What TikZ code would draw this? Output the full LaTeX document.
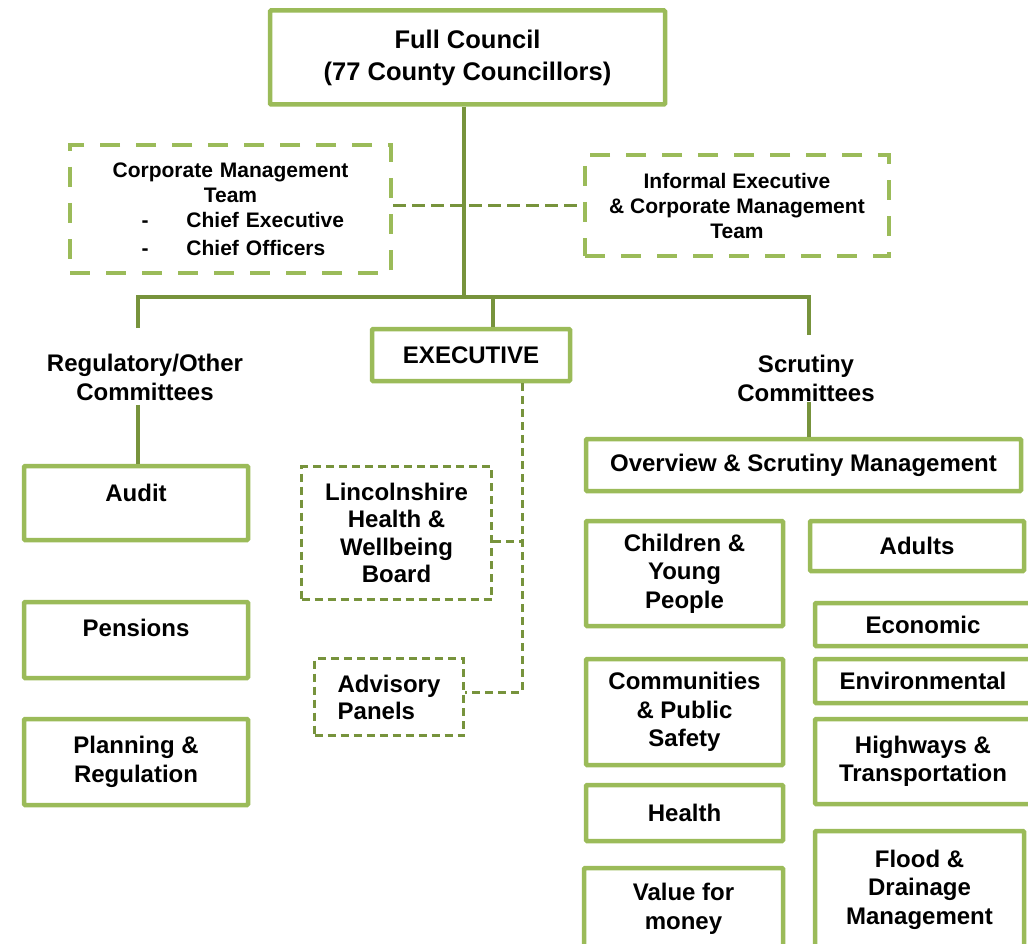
\documentclass[tikz,border=0pt]{standalone}
\usepackage{fontspec}
\setmainfont{Liberation Sans}
\usepackage{tikz}
\usepackage{xcolor}
\usetikzlibrary{calc}
\definecolor{lightolive}{HTML}{9BBB59}
\definecolor{darkolive}{HTML}{77933C}

\begin{document}
\begin{tikzpicture}[x=1pt,y=-1pt]
        \tikzstyle{every node}=[font=\bfseries\fontsize{24}{28.5}\selectfont, align=center, inner sep=0pt]
        \tikzstyle{box}=[draw=lightolive, line width=4.5pt, fill=white, rounded corners=1pt]
        \tikzstyle{dbox}=[draw=lightolive, line width=4.5pt, fill=white, dash pattern=on 20pt off 16pt]
        \tikzstyle{sbox}=[draw=darkolive, line width=3pt, fill=white, dash pattern=on 8pt off 5pt]
        \tikzstyle{link}=[draw=darkolive, line width=4.5pt]
        \tikzstyle{dlink}=[draw=darkolive, line width=3pt, dash pattern=on 8pt off 5pt]
        \tikzstyle{tlink}=[draw=darkolive, line width=3.5pt, dash pattern=on 13pt off 6pt]

        \useasboundingbox (0,0) rectangle (1028,944);
        \clip (0,0) rectangle (1028,944);

        \node[box, minimum width=395pt, minimum height=94pt, font=\bfseries\fontsize{25.5}{32}\selectfont] (1) at (467.5,57.5) {Full Council\\(77 County Councillors)};
        \node[dbox, minimum width=321pt, minimum height=128pt, font=\bfseries\fontsize{21}{25}\selectfont, text width=290pt, align=left] (2) at (230.5,209) {\makebox[290pt]{Corporate Management}\\\makebox[290pt]{Team}\\\hspace*{56pt}-\hspace*{38pt}Chief Executive\\[3pt]\hspace*{56pt}-\hspace*{38pt}Chief Officers};
        \node[dbox, minimum width=304pt, minimum height=101pt, font=\bfseries\fontsize{21}{25}\selectfont] (3) at (737,205.5) {Informal Executive\\\& Corporate Management\\Team};

        \node (4) at (145,377.5) {Regulatory/Other\\Committees};
        \node (5) at (806,378.5) {Scrutiny\\Committees};
        \node[box, minimum width=198pt, minimum height=52pt] (6) at (471,355) {EXECUTIVE};

        \node[box, minimum width=224pt, minimum height=74pt, text height=17pt, text depth=19.8pt] (7) at (136,503) {Audit};
        \node[box, minimum width=224pt, minimum height=76pt, text height=17pt, text depth=23.8pt] (8) at (136,640) {Pensions};
        \node[box, minimum width=224pt, minimum height=86pt] (9) at (136,762) {Planning \&\\Regulation};

        \node[sbox, minimum width=190pt, minimum height=133pt, font=\bfseries\fontsize{24}{27.5}\selectfont] (10) at (396.5,533) {Lincolnshire\\Health \&\\Wellbeing\\Board};
        \node[sbox, minimum width=149pt, minimum height=77pt, align=left, font=\bfseries\fontsize{24}{27}\selectfont] (11) at (389,697) {Advisory\\Panels};

        \node[box, minimum width=435pt, minimum height=52pt] (12) at (803.5,465) {Overview \& Scrutiny Management};
        \node[box, minimum width=197pt, minimum height=105pt] (13) at (684.5,573.5) {Children \&\\Young\\People};
        \node[box, minimum width=214pt, minimum height=50pt] (14) at (917,546) {Adults};
        \node[box, minimum width=216pt, minimum height=43pt] (15) at (923,624.5) {Economic};
        \node[box, minimum width=216pt, minimum height=44pt] (16) at (923,681) {Environmental};
        \node[box, minimum width=197pt, minimum height=106pt] (17) at (684.5,712) {Communities\\\& Public\\Safety};
        \node[box, minimum width=216pt, minimum height=85pt] (18) at (923,761.5) {Highways \&\\Transportation};
        \node[box, minimum width=197pt, minimum height=56pt] (19) at (684.5,813) {Health};
        \node[box, minimum width=209pt, minimum height=117pt] (20) at (919.5,889.5) {Flood \&\\Drainage\\Management};
        \node[box, minimum width=199pt, minimum height=82pt] (21) at (683.5,909) {Value for\\money};

        \coordinate (b0) at (464,297);
        \coordinate (b1) at (138,297);
        \coordinate (b2) at (493,297);
        \coordinate (b3) at (809,297);
        \coordinate (e0) at (522,0);

        \draw[link] (1.south -| b0) to (b0);
        \draw[link, shorten <=26pt, shorten >=20pt] (b1 |- 4.north) -- (b1) -- (b3) -- (b3 |- 5.north);
        \draw[link] (b2) to (b2 |- 6.north);
        \draw[link] ($(b1 |- 4.south)+(0,4)$) to (b1 |- 7.north);
        \draw[link] (b3 |- 5.south) to (b3 |- 12.north);

        \draw[tlink] (3.west -| 2.east) to (3.west);
        \draw[dlink] (6.south -| e0) -- ($(e0 |- 11.east)+(0,-5)$) -- ($(11.east)+(0,-5)$);
        \draw[dlink] ($(10.east)+(0,8)$) to ($(10.east -| e0)+(0,8)$);
\end{tikzpicture}
\end{document}
